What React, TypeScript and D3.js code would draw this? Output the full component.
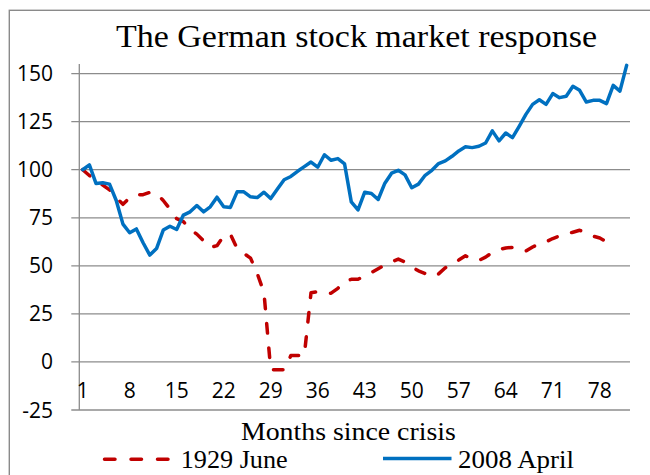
import * as d3 from 'd3';
import { useEffect, useRef } from 'react';

// 2008 April, index since crisis (month 1 = 100)
const blue2008 = [
  100, 102.5, 92.8, 93.2, 92.5, 84, 71.7, 67.2, 69.2, 62,
  55.6, 59, 68.6, 70.6, 68.9, 76.4, 78.1, 81.4, 78.1, 80.7,
  85.7, 80.7, 80.4, 88.5, 88.5, 85.9, 85.5, 88.3, 85, 90,
  94.8, 96.5, 99.2, 101.6, 104, 101.3, 107.8, 104.9, 105.8, 103,
  83.3, 79.1, 88.3, 87.6, 84.5, 93, 98.2, 99.7, 97.3, 90.6,
  92.5, 97.1, 99.7, 103.2, 104.6, 107, 109.8, 111.9, 111.5, 112.2,
  113.9, 120.2, 115, 119.1, 116.7, 122.6, 128.8, 134, 136.4, 134,
  139.6, 137.5, 138.2, 143.4, 141.3, 135.2, 136.1, 136.1, 134.4, 143.9,
  140.9, 154.3,
];

// 1929 June
const red1929 = [
  100, 97, 94.5, 92, 89.5, 85.5, 82, 85.5, 87, 87,
  88.2, 87.5, 84, 79.5, 74.5, 73, 69, 66.5, 63, 59.5,
  60.5, 65.5, 66.5, 59, 56.5, 54, 46, 36, -4, -4,
  -4, 3.3, 3.3, 3.3, 36, 36.5, 35.8, 35.8, 38.3, 41.8,
  43, 43, 44.8, 46.5, 48.5, 50.5, 52, 53.5, 52, 49.5,
  47.4, 46, 44.5, 45.8, 49, 50.8, 53, 55.2, 53.5, 52.8,
  54.5, 57, 58.5, 59.3, 59.6, 59, 57.7, 59.8, 61.5, 62.5,
  64.2, 65.5, 66.5, 67.5, 68.5, 67, 65.5, 64.5, 62.5,
];

const months = blue2008.map((_, i) => i + 1);
const xTickLabels = [1, 8, 15, 22, 29, 36, 43, 50, 57, 64, 71, 78];
const yTicks = [-25, 0, 25, 50, 75, 100, 125, 150];

const RED = '#C00000';
const BLUE = '#0070C0';
const GRID = '#8c8c8c';
const SERIF = '"Liberation Serif", "DejaVu Serif", serif';
const SANS = '"Open Sans", "Liberation Sans", sans-serif';

const App = () => {
  const svgRef = useRef<SVGSVGElement>(null);

  useEffect(() => {
    const svg = d3.select(svgRef.current);
    svg.selectAll('*').remove();

    const left = 79.3;
    const right = 630;
    const top = 64;
    const bottom = 410;

    const x = d3.scalePoint<number>().domain(months).range([left, right]).padding(0.5);
    const y = d3.scaleLinear().domain([-25, 155]).range([bottom, top]);

    svg.append('rect').attr('width', 650).attr('height', 475).attr('fill', '#fff');

    // chart area border (runs off the right and bottom edges)
    svg
      .append('rect')
      .attr('x', 9.3)
      .attr('y', 10.3)
      .attr('width', 700)
      .attr('height', 500)
      .attr('fill', 'none')
      .attr('stroke', '#8a8a8a')
      .attr('stroke-width', 1.4);

    // gridlines + tick marks
    svg
      .selectAll('.grid')
      .data(yTicks)
      .join('line')
      .attr('class', 'grid')
      .attr('x1', left - 8)
      .attr('x2', right)
      .attr('y1', (d) => y(d))
      .attr('y2', (d) => y(d))
      .attr('stroke', GRID)
      .attr('stroke-width', 1.3);

    svg
      .append('line')
      .attr('x1', left)
      .attr('x2', left)
      .attr('y1', top)
      .attr('y2', bottom)
      .attr('stroke', GRID)
      .attr('stroke-width', 1.3);

    svg
      .selectAll('.ylab')
      .data(yTicks)
      .join('text')
      .attr('class', 'ylab')
      .attr('x', 53)
      .attr('y', (d) => y(d) + 7.5)
      .attr('text-anchor', 'end')
      .style('font-family', SANS)
      .style('font-size', '21px')
      .text((d) => d);

    svg
      .selectAll('.xlab')
      .data(xTickLabels)
      .join('text')
      .attr('class', 'xlab')
      .attr('x', (d) => x(d) as number)
      .attr('y', 397.5)
      .attr('text-anchor', 'middle')
      .style('font-family', SANS)
      .style('font-size', '21px')
      .text((d) => d);

    const line = d3
      .line<number>()
      .x((_, i) => x(months[i]) as number)
      .y((d) => y(d));

    svg
      .append('path')
      .attr('d', line(red1929))
      .attr('fill', 'none')
      .attr('stroke', RED)
      .attr('stroke-width', 3.5)
      .attr('stroke-linecap', 'round')
      .attr('stroke-linejoin', 'round')
      .attr('stroke-dasharray', '9.5 15');

    svg
      .append('path')
      .attr('d', line(blue2008))
      .attr('fill', 'none')
      .attr('stroke', BLUE)
      .attr('stroke-width', 3.5)
      .attr('stroke-linejoin', 'round')
      .attr('stroke-linecap', 'round');

    // title
    svg
      .append('text')
      .attr('x', 356.5)
      .attr('y', 47)
      .attr('text-anchor', 'middle')
      .attr('textLength', 481)
      .attr('lengthAdjust', 'spacingAndGlyphs')
      .style('font-family', SERIF)
      .style('font-size', '32px')
      .text('The German stock market response');

    svg
      .append('text')
      .attr('x', 348.4)
      .attr('y', 440)
      .attr('text-anchor', 'middle')
      .attr('textLength', 215)
      .attr('lengthAdjust', 'spacingAndGlyphs')
      .style('font-family', SERIF)
      .style('font-size', '25px')
      .text('Months since crisis');

    // legend
    svg
      .append('line')
      .attr('x1', 104.5)
      .attr('x2', 169)
      .attr('y1', 459.3)
      .attr('y2', 459.3)
      .attr('stroke', RED)
      .attr('stroke-width', 3.5)
      .attr('stroke-linecap', 'round')
      .attr('stroke-dasharray', '10.5 16');

    svg
      .append('text')
      .attr('x', 180.7)
      .attr('y', 467.5)
      .attr('textLength', 107)
      .attr('lengthAdjust', 'spacingAndGlyphs')
      .style('font-family', SERIF)
      .style('font-size', '26px')
      .text('1929 June');

    svg
      .append('line')
      .attr('x1', 383)
      .attr('x2', 451.5)
      .attr('y1', 458.5)
      .attr('y2', 458.5)
      .attr('stroke', BLUE)
      .attr('stroke-width', 3.5);

    svg
      .append('text')
      .attr('x', 458)
      .attr('y', 467.5)
      .attr('textLength', 116)
      .attr('lengthAdjust', 'spacingAndGlyphs')
      .style('font-family', SERIF)
      .style('font-size', '26px')
      .text('2008 April');
  }, []);

  return (
    <svg
      ref={svgRef}
      width={650}
      height={475}
      style={{ position: 'absolute', left: 0, top: 0, display: 'block' }}
    />
  );
};

export default App;
